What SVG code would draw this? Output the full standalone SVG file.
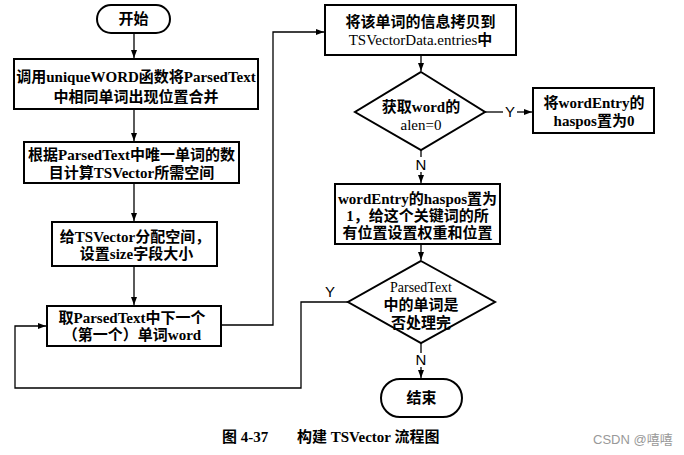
<svg xmlns="http://www.w3.org/2000/svg" width="684" height="455" viewBox="0 0 684 455">
<defs>
<style>
.box{fill:#fff;stroke:#000;stroke-width:2}
.line{fill:none;stroke:#000;stroke-width:1.3}
.t{font-family:"Liberation Serif","Noto Sans CJK SC",serif;font-size:15px;font-weight:bold;text-anchor:middle;fill:#000}
.n{font-weight:normal}
.lbl{font-family:"Liberation Sans","Noto Sans CJK SC",sans-serif;font-size:15px;text-anchor:middle;fill:#000}
.cap{font-family:"Liberation Serif","Noto Sans CJK SC",serif;font-size:15px;font-weight:bold;fill:#000}
.wm{font-family:"Liberation Sans","Noto Sans CJK SC",sans-serif;font-size:13px;fill:#999}
</style>
<marker id="arr" viewBox="0 0 8 6" refX="8" refY="3" markerWidth="8" markerHeight="6" markerUnits="userSpaceOnUse" orient="auto">
<path d="M0,0 L8,3 L0,6 Z" fill="#000"/>
</marker>
</defs>
<rect width="684" height="455" fill="#fff"/>
<g id="connectors">
<path class="line" d="M134,33 V58" marker-end="url(#arr)"/>
<path class="line" d="M134,109 V141" marker-end="url(#arr)"/>
<path class="line" d="M134,183 V221" marker-end="url(#arr)"/>
<path class="line" d="M134,266 V305" marker-end="url(#arr)"/>
<path class="line" d="M221,325 H273 V32 H324" marker-end="url(#arr)"/>
<path class="line" d="M421,55 V71" marker-end="url(#arr)"/>
<path class="line" d="M485,112 H503"/>
<path class="line" d="M517,112 H532" marker-end="url(#arr)"/>
<text class="lbl" x="510" y="117">Y</text>
<path class="line" d="M421,150 V157"/>
<path class="line" d="M421,172 V183" marker-end="url(#arr)"/>
<text class="lbl" x="421" y="170">N</text>
<path class="line" d="M421,244 V260" marker-end="url(#arr)"/>
<path class="line" d="M348,302 H301 V388 H15 V326 H46" marker-end="url(#arr)"/>
<text class="lbl" x="330" y="297">Y</text>
<path class="line" d="M421,343 V353"/>
<path class="line" d="M421,367 V378" marker-end="url(#arr)"/>
<text class="lbl" x="421" y="365">N</text>
</g>
<g id="start">
<rect class="box" x="97" y="5" width="73" height="28" rx="14"/>
<text class="t" x="133.5" y="24">开始</text>
</g>
<g id="box1">
<rect class="box" x="14" y="59" width="244" height="50"/>
<text class="t" x="136" y="82">调用uniqueWORD函数将ParsedText</text>
<text class="t" x="136" y="102">中相同单词出现位置合并</text>
</g>
<g id="box2">
<rect class="box" x="24" y="142" width="215" height="41"/>
<text class="t" x="131.5" y="160">根据ParsedText中唯一单词的数</text>
<text class="t" x="131.5" y="178">目计算TSVector所需空间</text>
</g>
<g id="box3">
<rect class="box" x="52" y="222" width="165" height="44"/>
<text class="t" x="135" y="242">给TSVector分配空间，</text>
<text class="t" x="136.5" y="259">设置size字段大小</text>
</g>
<g id="box4">
<rect class="box" x="47" y="306" width="174" height="40"/>
<text class="t" x="132" y="323">取ParsedText中下一个</text>
<text class="t" x="132" y="340">（第一个）单词word</text>
</g>
<g id="box5">
<rect class="box" x="325" y="5" width="191" height="50"/>
<text class="t" x="420.5" y="27">将该单词的信息拷贝到</text>
<text class="t" x="420.5" y="45"><tspan class="n">TSVectorData.entries</tspan>中</text>
</g>
<g id="decision1">
<polygon class="box" points="421,72 485,112 421,150 355,112"/>
<text class="t" x="421" y="112">获取word的</text>
<text class="t n" x="421" y="130">alen=0</text>
</g>
<g id="box6">
<rect class="box" x="533" y="88" width="121" height="45"/>
<text class="t" x="594" y="108">将wordEntry的</text>
<text class="t" x="594" y="126">haspos置为0</text>
</g>
<g id="box7">
<rect class="box" x="335" y="184" width="165" height="60"/>
<text class="t" x="417.5" y="204">wordEntry的haspos置为</text>
<text class="t" x="417.5" y="221">1，给这个关键词的所</text>
<text class="t" x="417.5" y="238">有位置设置权重和位置</text>
</g>
<g id="decision2">
<polygon class="box" points="421,261 495,302 421,343 348,302"/>
<text class="t n" x="421" y="292" style="font-size:14px">ParsedText</text>
<text class="t" x="421" y="310">中的单词是</text>
<text class="t" x="421" y="328">否处理完</text>
</g>
<g id="end">
<rect class="box" x="381" y="379" width="81" height="38" rx="19"/>
<text class="t" x="421.5" y="403">结束</text>
</g>
<text class="cap" x="222" y="442">图 4-37</text>
<text class="cap" x="297" y="442">构建 TSVector 流程图</text>
<text class="wm" x="593" y="444">CSDN @嘻嘻</text>
</svg>
